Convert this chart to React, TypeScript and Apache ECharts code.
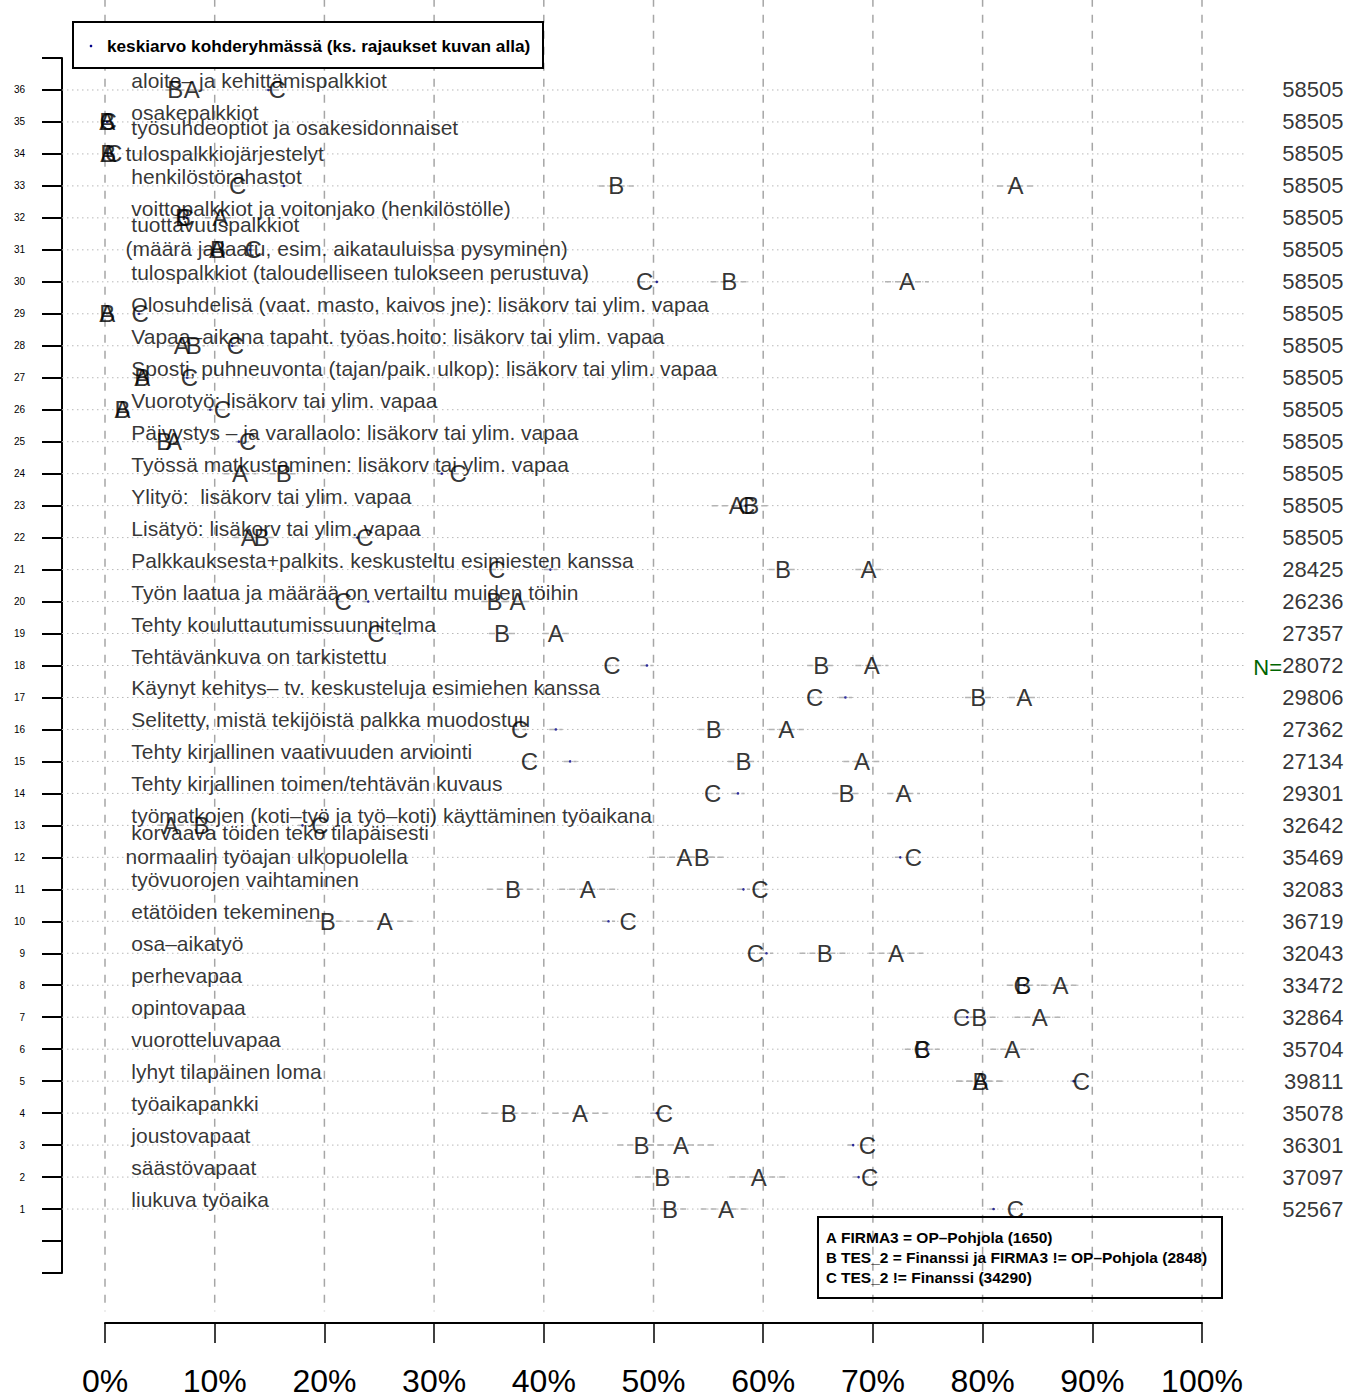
import React, { useEffect, useRef } from 'react';
import * as echarts from 'echarts';

// ---------- DATA (index 0 = row 1 at the bottom, index 35 = row 36 at the top) ----------
const rows = [1, 2, 3, 4, 5, 6, 7, 8, 9, 10, 11, 12, 13, 14, 15, 16, 17, 18, 19, 20, 21, 22, 23, 24, 25, 26, 27, 28, 29, 30, 31, 32, 33, 34, 35, 36];

const rowLabels = [
  '\u00a0liukuva työaika',
  '\u00a0säästövapaat',
  '\u00a0joustovapaat',
  '\u00a0työaikapankki',
  '\u00a0lyhyt tilapäinen loma',
  '\u00a0vuorotteluvapaa',
  '\u00a0opintovapaa',
  '\u00a0perhevapaa',
  '\u00a0osa–aikatyö',
  '\u00a0etätöiden tekeminen',
  '\u00a0työvuorojen vaihtaminen',
  '\u00a0korvaava töiden teko tilapäisesti\nnormaalin työajan ulkopuolella',
  '\u00a0työmatkojen (koti–työ ja työ–koti) käyttäminen työaikana',
  '\u00a0Tehty kirjallinen toimen/tehtävän kuvaus',
  '\u00a0Tehty kirjallinen vaativuuden arviointi',
  '\u00a0Selitetty, mistä tekijöistä palkka muodostuu',
  '\u00a0Käynyt kehitys– tv. keskusteluja esimiehen kanssa',
  '\u00a0Tehtävänkuva on tarkistettu',
  '\u00a0Tehty kouluttautumissuunnitelma',
  '\u00a0Työn laatua ja määrää on vertailtu muiden töihin',
  '\u00a0Palkkauksesta+palkits. keskusteltu esimiesten kanssa',
  '\u00a0Lisätyö: lisäkorv tai ylim. vapaa',
  '\u00a0Ylityö:  lisäkorv tai ylim. vapaa',
  '\u00a0Työssä matkustaminen: lisäkorv tai ylim. vapaa',
  '\u00a0Päivystys – ja varallaolo: lisäkorv tai ylim. vapaa',
  '\u00a0Vuorotyö: lisäkorv tai ylim. vapaa',
  '\u00a0Sposti, puhneuvonta (tajan/paik. ulkop): lisäkorv tai ylim. vapaa',
  '\u00a0Vapaa–aikana tapaht. työas.hoito: lisäkorv tai ylim. vapaa',
  '\u00a0Olosuhdelisä (vaat. masto, kaivos jne): lisäkorv tai ylim. vapaa',
  '\u00a0tulospalkkiot (taloudelliseen tulokseen perustuva)',
  '\u00a0tuottavuuspalkkiot\n(määrä ja laatu, esim. aikatauluissa pysyminen)',
  '\u00a0voittopalkkiot ja voitonjako (henkilöstölle)',
  '\u00a0henkilöstörahastot',
  'tulospalkkiojärjestelyt',
  '\u00a0osakepalkkiot\n\u00a0työsuhdeoptiot ja osakesidonnaiset',
  '\u00a0aloite– ja kehittämispalkkiot',
];

const nValues = [52567, 37097, 36301, 35078, 39811, 35704, 32864, 33472, 32043, 36719, 32083, 35469, 32642, 29301, 27134, 27362, 29806, 28072, 27357, 26236, 28425, 58505, 58505, 58505, 58505, 58505, 58505, 58505, 58505, 58505, 58505, 58505, 58505, 58505, 58505, 58505];

// Group A: FIRMA3 = OP–Pohjola
const groupA = [56.6, 59.6, 52.5, 43.3, 79.8, 82.7, 85.2, 87.1, 72.1, 25.5, 44.0, 52.8, 6.0, 72.8, 69.0, 62.1, 83.8, 69.9, 41.1, 37.6, 69.6, 13.1, 57.6, 12.3, 6.3, 1.6, 3.4, 7.0, 0.2, 73.1, 10.2, 10.5, 83.0, 0.3, 0.2, 7.9];
// Group B: TES_2 = Finanssi ja FIRMA3 != OP–Pohjola
const groupB = [51.5, 50.8, 48.9, 36.8, 79.8, 74.5, 79.7, 83.7, 65.6, 20.3, 37.2, 54.4, 8.8, 67.6, 58.2, 55.5, 79.6, 65.3, 36.2, 35.5, 61.8, 14.3, 58.9, 16.3, 5.4, 1.6, 3.4, 8.1, 0.2, 56.9, 10.3, 7.1, 46.6, 0.3, 0.2, 6.4];
// Group C: TES_2 != Finanssi
const groupC = [83.0, 69.7, 69.5, 51.0, 89.0, 74.5, 78.1, 83.6, 59.3, 47.7, 59.7, 73.7, 19.6, 55.4, 38.7, 37.8, 64.7, 46.2, 24.7, 21.7, 35.7, 23.7, 58.5, 32.2, 13.0, 10.7, 7.7, 11.9, 3.2, 49.2, 13.5, 7.3, 12.1, 0.8, 0.3, 15.7];
// Mean in the target group (blue dots)
const targetMean = [81.0, 68.7, 68.2, 50.3, 88.3, 74.9, 78.6, 83.8, 60.3, 45.9, 58.2, 72.5, 18.0, 57.7, 42.4, 41.1, 67.5, 49.4, 26.9, 24.0, 40.6, 23.0, 58.4, 30.7, 12.2, 9.6, 7.5, 11.6, 3.1, 50.3, 13.2, 7.5, 16.3, 0.6, 0.2, 14.9];

// Confidence interval half-widths (percentage points)
const halfA = [2.3, 2.7, 3.0, 2.5, 2.2, 2.0, 2.3, 1.8, 2.5, 2.5, 2.6, 3.2, 1.2, 1.5, 1.7, 1.6, 1.4, 1.5, 1.2, 1.3, 1.2, 1.4, 2.3, 1.5, 1.0, 0.5, 0.8, 1.2, 0.1, 2.0, 1.4, 1.4, 1.7, 0.1, 0.1, 1.2];
const halfB = [1.8, 2.5, 2.2, 2.5, 2.2, 1.6, 1.8, 1.5, 2.3, 2.0, 2.4, 2.2, 1.0, 1.3, 1.4, 1.4, 1.2, 1.3, 1.2, 1.2, 1.3, 1.3, 1.8, 1.3, 0.8, 0.4, 0.6, 1.0, 0.1, 1.7, 1.1, 0.9, 1.6, 0.1, 0.1, 0.9];
const halfC = [0.5, 0.6, 0.6, 0.6, 0.4, 0.5, 0.5, 0.5, 0.6, 0.6, 0.6, 0.5, 0.4, 0.6, 0.6, 0.6, 0.6, 0.6, 0.5, 0.5, 0.6, 0.4, 0.5, 0.5, 0.4, 0.3, 0.3, 0.3, 0.2, 0.5, 0.4, 0.3, 0.3, 0.1, 0.1, 0.4];
const halfMean = [0.4, 0.5, 0.5, 0.6, 0.3, 0.5, 0.5, 0.4, 0.6, 0.6, 0.6, 0.5, 0.4, 0.6, 0.6, 0.6, 0.6, 0.6, 0.5, 0.5, 0.6, 0.4, 0.4, 0.4, 0.3, 0.3, 0.3, 0.3, 0.2, 0.4, 0.3, 0.3, 0.3, 0.1, 0.1, 0.3];

const xTicks = [0, 10, 20, 30, 40, 50, 60, 70, 80, 90, 100];
const legendLetters = ['A', 'B', 'C'];
const legendTexts = [
  'FIRMA3 = OP–Pohjola (1650)',
  'TES_2 = Finanssi ja FIRMA3 != OP–Pohjola (2848)',
  'TES_2 != Finanssi (34290)',
];
const meanLegendText = 'keskiarvo kohderyhmässä (ks. rajaukset kuvan alla)';
const nPrefix = 'N=';

// ---------- STYLE ----------
const FONT = "'Liberation Sans', Arial, Helvetica, sans-serif";
const X_LEFT = -3.92;
const X_RIGHT = 104.0;
const Y_TOP = 38.85;
const Y_BOTTOM = -2.2;
const LABEL_X = 1.82;
const N_X = 112.95;

function labelStyleFor(row: number) {
  if (row === 34) return { dy: 0, lh: 21 };
  if (row === 35) return { dy: -1.5, lh: 15 };
  if (row === 31 || row === 12) return { dy: -13, lh: 24 };
  return { dy: -9.5, lh: 21 };
}

function errorBarSeries(vals: number[], halves: number[], z: number) {
  return {
    type: 'custom',
    clip: false,
    silent: true,
    z,
    data: rows.map((r, i) => [vals[i] - halves[i], vals[i] + halves[i], r]),
    encode: { x: [0, 1], y: 2 },
    renderItem: (_p: any, api: any) => {
      const a = api.coord([api.value(0), api.value(2)]);
      const b = api.coord([api.value(1), api.value(2)]);
      return {
        type: 'line',
        shape: { x1: a[0], y1: a[1], x2: b[0], y2: b[1] },
        style: { stroke: '#b4b4b4', lineWidth: 1.5, lineDash: [6, 4] },
      };
    },
  };
}

function letterSeries(letter: string, vals: number[], z: number) {
  return {
    type: 'scatter',
    name: letter,
    silent: true,
    clip: false,
    z,
    symbolSize: 1,
    itemStyle: { color: 'rgba(0,0,0,0)' },
    data: rows.map((r, i) => [vals[i], r]),
    label: {
      show: true,
      position: 'inside',
      formatter: letter,
      fontSize: 24,
      fontFamily: FONT,
      color: '#000',
    },
  };
}

export default function App() {
  const ref = useRef<HTMLDivElement>(null);

  useEffect(() => {
    document.body.style.margin = '0';
    document.body.style.overflow = 'hidden';
    const chart = echarts.init(ref.current!, null, { renderer: 'svg' });

    const option: any = {
      animation: false,
      backgroundColor: '#ffffff',
      textStyle: { fontFamily: FONT },
      grid: { left: 105, top: 58, width: 1097, height: 1217, containLabel: false },
      xAxis: {
        type: 'value',
        min: 0,
        max: 100,
        interval: 10,
        position: 'bottom',
        offset: 50,
        axisLine: { show: true, onZero: false, lineStyle: { color: '#000', width: 2 } },
        axisTick: { show: true, length: 20, lineStyle: { color: '#000', width: 1.5 } },
        axisLabel: { formatter: '{value}%', fontSize: 32, color: '#000', margin: 42, fontFamily: FONT },
        splitLine: { show: false },
      },
      yAxis: {
        type: 'value',
        min: -1,
        max: 37,
        interval: 1,
        position: 'left',
        offset: 43,
        axisLine: { show: true, onZero: false, lineStyle: { color: '#000', width: 2 } },
        axisTick: { show: true, length: 20, lineStyle: { color: '#000', width: 2 } },
        axisLabel: {
          fontSize: 10,
          color: '#000',
          margin: 37,
          fontFamily: FONT,
          formatter: (v: number) => (v >= 1 && v <= 36 ? String(v) : ''),
        },
        splitLine: { show: false },
      },
      series: [
        // vertical dashed grid lines
        {
          type: 'custom',
          clip: false,
          silent: true,
          z: 1,
          data: xTicks.map((v) => [v, 0]),
          encode: { x: 0, y: 1 },
          renderItem: (_p: any, api: any) => {
            const a = api.coord([api.value(0), Y_TOP]);
            const b = api.coord([api.value(0), Y_BOTTOM]);
            return {
              type: 'line',
              shape: { x1: a[0], y1: a[1], x2: b[0], y2: b[1] },
              style: { stroke: '#a6a6a6', lineWidth: 1.5, lineDash: [8, 8] },
            };
          },
        },
        // horizontal dotted grid lines
        {
          type: 'custom',
          clip: false,
          silent: true,
          z: 1,
          data: rows.map((r) => [0, r]),
          encode: { x: 0, y: 1 },
          renderItem: (_p: any, api: any) => {
            const a = api.coord([X_LEFT, api.value(1)]);
            const b = api.coord([X_RIGHT, api.value(1)]);
            return {
              type: 'line',
              shape: { x1: a[0], y1: a[1], x2: b[0], y2: b[1] },
              style: { stroke: '#b8b8b8', lineWidth: 1, lineDash: [1.5, 3.5] },
            };
          },
        },
        errorBarSeries(groupA, halfA, 2),
        errorBarSeries(groupB, halfB, 2),
        errorBarSeries(groupC, halfC, 2),
        errorBarSeries(targetMean, halfMean, 2),
        // row labels
        {
          type: 'scatter',
          silent: true,
          clip: false,
          z: 3,
          symbolSize: 1,
          itemStyle: { color: 'rgba(0,0,0,0)' },
          data: rows.map((r, i) => {
            const s = labelStyleFor(r);
            return {
              value: [LABEL_X, r],
              name: rowLabels[i],
              label: { offset: [0, s.dy], lineHeight: s.lh },
            };
          }),
          label: {
            show: true,
            position: 'right',
            distance: 0,
            formatter: (p: any) => p.name,
            fontSize: 21,
            fontFamily: FONT,
            color: '#000',
            align: 'left',
          },
        },
        // target group mean dots
        {
          type: 'scatter',
          silent: true,
          clip: false,
          z: 4,
          symbol: 'circle',
          symbolSize: 2.6,
          itemStyle: { color: '#00008b' },
          data: rows.map((r, i) => [targetMean[i], r]),
        },
        letterSeries('A', groupA, 5),
        letterSeries('B', groupB, 5),
        letterSeries('C', groupC, 5),
        // N values on the right
        {
          type: 'scatter',
          silent: true,
          clip: false,
          z: 5,
          symbolSize: 1,
          itemStyle: { color: 'rgba(0,0,0,0)' },
          data: rows.map((r, i) => ({ value: [N_X, r], name: String(nValues[i]) })),
          label: {
            show: true,
            position: 'left',
            distance: 0,
            formatter: (p: any) => p.name,
            fontSize: 22,
            fontFamily: FONT,
            color: '#000',
          },
        },
      ],
      graphic: [
        // top legend
        {
          type: 'rect',
          z: 100,
          shape: { x: 73, y: 22, width: 470, height: 46 },
          style: { fill: '#ffffff', stroke: '#000', lineWidth: 2 },
        },
        {
          type: 'circle',
          z: 101,
          shape: { cx: 91, cy: 46, r: 1.3 },
          style: { fill: '#00008b' },
        },
        {
          type: 'text',
          z: 101,
          x: 107,
          y: 46,
          style: {
            text: meanLegendText,
            fontSize: 17.2,
            fontWeight: 'bold',
            fontFamily: FONT,
            fill: '#000',
            verticalAlign: 'middle',
            align: 'left',
          },
        },
        // bottom legend
        {
          type: 'rect',
          z: 100,
          shape: { x: 818, y: 1217, width: 404, height: 81 },
          style: { fill: 'none', stroke: '#000', lineWidth: 2 },
        },
        ...legendLetters.map((l, i) => ({
          type: 'text',
          z: 101,
          x: 826,
          y: 1237 + i * 20,
          style: {
            text: l,
            fontSize: 15,
            fontWeight: 'bold',
            fontFamily: FONT,
            fill: '#000',
            verticalAlign: 'middle',
            align: 'left',
          },
        })),
        ...legendTexts.map((t, i) => ({
          type: 'text',
          z: 101,
          x: 841,
          y: 1237 + i * 20,
          style: {
            text: t,
            fontSize: 15.5,
            fontWeight: 'bold',
            fontFamily: FONT,
            fill: '#000',
            verticalAlign: 'middle',
            align: 'left',
          },
        })),
        // N= marker
        {
          type: 'text',
          z: 101,
          x: 1282,
          y: 667,
          style: {
            text: nPrefix,
            fontSize: 22,
            fontFamily: FONT,
            fill: '#006400',
            verticalAlign: 'middle',
            align: 'right',
          },
        },
      ],
    };

    chart.setOption(option);
    return () => chart.dispose();
  }, []);

  return <div ref={ref} style={{ width: 1345, height: 1397 }} />;
}
